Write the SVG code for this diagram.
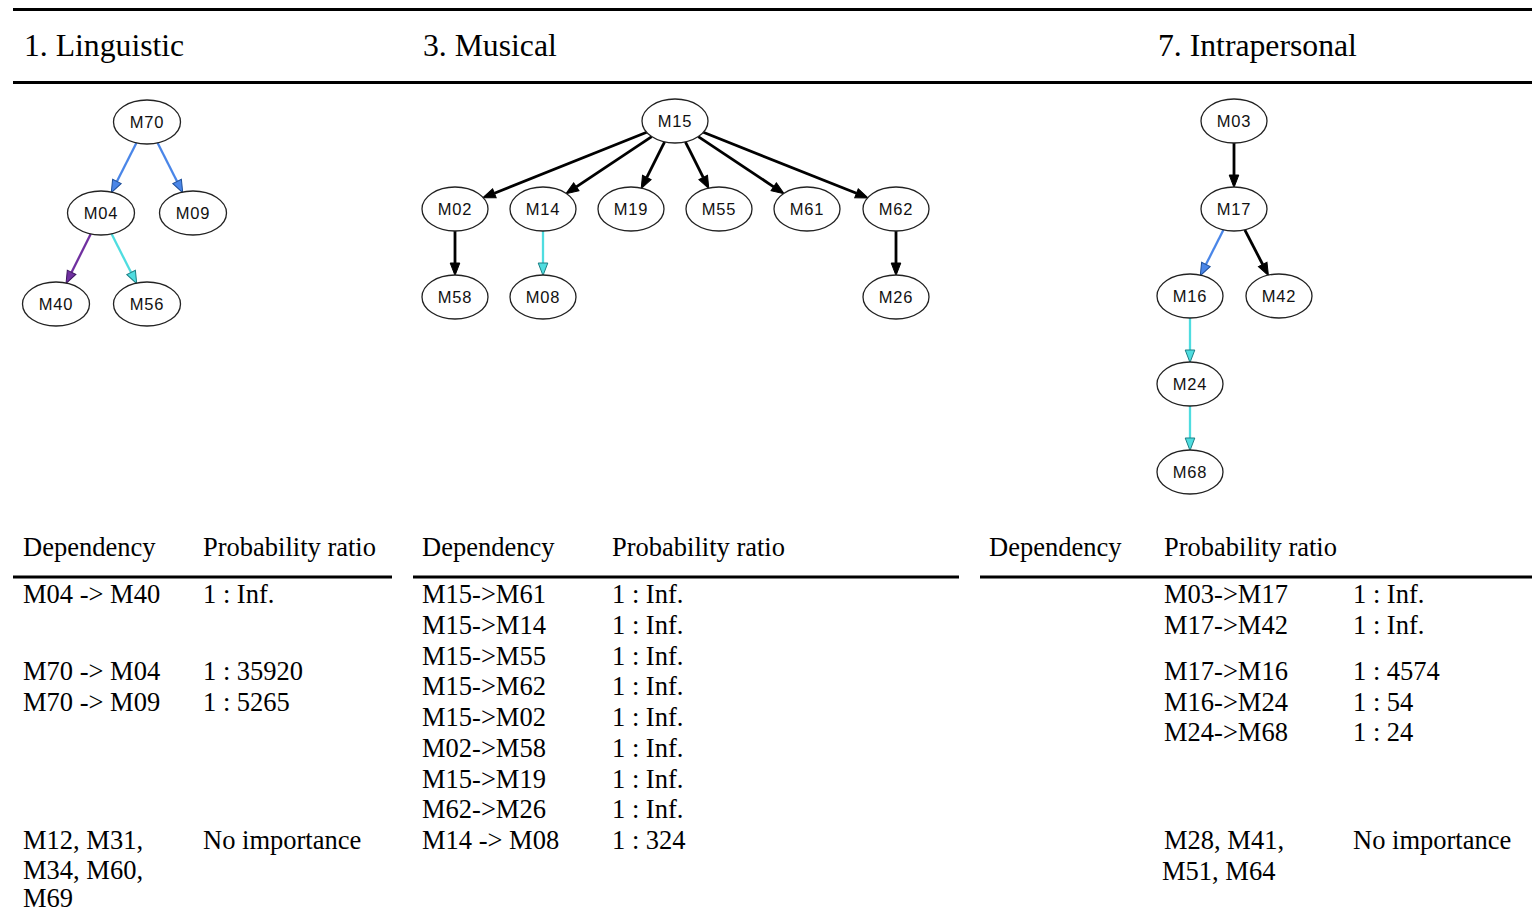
<svg xmlns="http://www.w3.org/2000/svg" width="1532" height="912" viewBox="0 0 1532 912">
<style>
.rule{stroke:#000;stroke-width:3;fill:none}
.h{font-family:"Liberation Serif","Times New Roman",serif;font-size:31.7px;fill:#000}
.t{font-family:"Liberation Serif","Times New Roman",serif;font-size:26.5px;fill:#000}
.node ellipse{fill:#fff;stroke:#222;stroke-width:1.3}
.node text{font-family:"Liberation Sans",Arial,sans-serif;font-size:16.5px;fill:#111;text-anchor:middle;letter-spacing:0.8px}
.e{fill:none;stroke-linecap:butt}
.k{stroke:#000;stroke-width:2.8}
.b{stroke:#4a86e8;stroke-width:2.3}
.c{stroke:#4fdde0;stroke-width:2.3}
.p{stroke:#7030a0;stroke-width:2.3}
</style>
<defs>
<marker id="ak" markerUnits="userSpaceOnUse" viewBox="-1 -6 15 12" markerWidth="15" markerHeight="12" refX="0" refY="0" orient="auto"><path d="M0,-4.8 L12.5,0 L0,4.8 Z" fill="#000" stroke="#000" stroke-width="1"/></marker>
<marker id="ab" markerUnits="userSpaceOnUse" viewBox="-1 -6 15 12" markerWidth="15" markerHeight="12" refX="0" refY="0" orient="auto"><path d="M0,-4.8 L12.5,0 L0,4.8 Z" fill="#4a86e8" stroke="#1f4f99" stroke-width="1"/></marker>
<marker id="ac" markerUnits="userSpaceOnUse" viewBox="-1 -6 15 12" markerWidth="15" markerHeight="12" refX="0" refY="0" orient="auto"><path d="M0,-4.8 L12.5,0 L0,4.8 Z" fill="#4fdde0" stroke="#1c7f84" stroke-width="1"/></marker>
<marker id="ap" markerUnits="userSpaceOnUse" viewBox="-1 -6 15 12" markerWidth="15" markerHeight="12" refX="0" refY="0" orient="auto"><path d="M0,-4.8 L12.5,0 L0,4.8 Z" fill="#7030a0" stroke="#3d1760" stroke-width="1"/></marker>
</defs>
<rect width="1532" height="912" fill="#fff"/>
<g id="rules">
<line class="rule" x1="13" y1="9.5" x2="1532" y2="9.5"/>
<line class="rule" x1="13" y1="82.5" x2="1532" y2="82.5"/>
<line class="rule" x1="13" y1="577" x2="392" y2="577"/>
<line class="rule" x1="413" y1="577" x2="959" y2="577"/>
<line class="rule" x1="980" y1="577" x2="1532" y2="577"/>
</g>
<g id="headers">
<text class="h" x="24" y="56">1. Linguistic</text>
<text class="h" x="423" y="56">3. Musical</text>
<text class="h" x="1158" y="56">7. Intrapersonal</text>
</g>
<g id="connectors">
<line class="e b" x1="136.5" y1="142.8" x2="116.9" y2="181.5" marker-end="url(#ab)"/>
<line class="e b" x1="157.5" y1="142.8" x2="177.1" y2="181.5" marker-end="url(#ab)"/>
<line class="e p" x1="90.7" y1="233.9" x2="71.6" y2="272.3" marker-end="url(#ap)"/>
<line class="e c" x1="111.5" y1="233.8" x2="131.1" y2="272.5" marker-end="url(#ac)"/>
<line class="e k" x1="646.7" y1="132.3" x2="494.4" y2="193.2" marker-end="url(#ak)"/>
<line class="e k" x1="651.7" y1="136.6" x2="576.3" y2="186.8" marker-end="url(#ak)"/>
<line class="e k" x1="664.6" y1="141.9" x2="646.8" y2="177.4" marker-end="url(#ak)"/>
<line class="e k" x1="685.4" y1="141.9" x2="703.2" y2="177.4" marker-end="url(#ak)"/>
<line class="e k" x1="698.3" y1="136.6" x2="773.7" y2="186.8" marker-end="url(#ak)"/>
<line class="e k" x1="703.3" y1="132.3" x2="856.5" y2="193.3" marker-end="url(#ak)"/>
<line class="e k" x1="455" y1="231" x2="455" y2="263" marker-end="url(#ak)"/>
<line class="e c" x1="543" y1="231" x2="543" y2="263" marker-end="url(#ac)"/>
<line class="e k" x1="896" y1="231" x2="896" y2="263" marker-end="url(#ak)"/>
<line class="e k" x1="1234" y1="143" x2="1234" y2="175" marker-end="url(#ak)"/>
<line class="e b" x1="1223.5" y1="229.8" x2="1205.9" y2="264.5" marker-end="url(#ab)"/>
<line class="e k" x1="1244.8" y1="229.8" x2="1262.7" y2="264.5" marker-end="url(#ak)"/>
<line class="e c" x1="1190" y1="318" x2="1190" y2="350" marker-end="url(#ac)"/>
<line class="e c" x1="1190" y1="406" x2="1190" y2="438" marker-end="url(#ac)"/>
</g>
<g id="n-M70" class="node"><ellipse cx="147" cy="122" rx="33.5" ry="22"/><text x="147" y="128">M70</text></g>
<g id="n-M04" class="node"><ellipse cx="101" cy="213" rx="33.5" ry="22"/><text x="101" y="219">M04</text></g>
<g id="n-M09" class="node"><ellipse cx="193" cy="213" rx="33.5" ry="22"/><text x="193" y="219">M09</text></g>
<g id="n-M40" class="node"><ellipse cx="56" cy="304" rx="33.5" ry="22"/><text x="56" y="310">M40</text></g>
<g id="n-M56" class="node"><ellipse cx="147" cy="304" rx="33.5" ry="22"/><text x="147" y="310">M56</text></g>
<g id="n-M15" class="node"><ellipse cx="675" cy="121" rx="33" ry="22"/><text x="675" y="127">M15</text></g>
<g id="n-M02" class="node"><ellipse cx="455" cy="209" rx="33" ry="22"/><text x="455" y="215">M02</text></g>
<g id="n-M14" class="node"><ellipse cx="543" cy="209" rx="33" ry="22"/><text x="543" y="215">M14</text></g>
<g id="n-M19" class="node"><ellipse cx="631" cy="209" rx="33" ry="22"/><text x="631" y="215">M19</text></g>
<g id="n-M55" class="node"><ellipse cx="719" cy="209" rx="33" ry="22"/><text x="719" y="215">M55</text></g>
<g id="n-M61" class="node"><ellipse cx="807" cy="209" rx="33" ry="22"/><text x="807" y="215">M61</text></g>
<g id="n-M62" class="node"><ellipse cx="896" cy="209" rx="33" ry="22"/><text x="896" y="215">M62</text></g>
<g id="n-M58" class="node"><ellipse cx="455" cy="297" rx="33" ry="22"/><text x="455" y="303">M58</text></g>
<g id="n-M08" class="node"><ellipse cx="543" cy="297" rx="33" ry="22"/><text x="543" y="303">M08</text></g>
<g id="n-M26" class="node"><ellipse cx="896" cy="297" rx="33" ry="22"/><text x="896" y="303">M26</text></g>
<g id="n-M03" class="node"><ellipse cx="1234" cy="121" rx="33" ry="22"/><text x="1234" y="127">M03</text></g>
<g id="n-M17" class="node"><ellipse cx="1234" cy="209" rx="33" ry="22"/><text x="1234" y="215">M17</text></g>
<g id="n-M16" class="node"><ellipse cx="1190" cy="296" rx="33" ry="22"/><text x="1190" y="302">M16</text></g>
<g id="n-M42" class="node"><ellipse cx="1279" cy="296" rx="33" ry="22"/><text x="1279" y="302">M42</text></g>
<g id="n-M24" class="node"><ellipse cx="1190" cy="384" rx="33" ry="22"/><text x="1190" y="390">M24</text></g>
<g id="n-M68" class="node"><ellipse cx="1190" cy="472" rx="33" ry="22"/><text x="1190" y="478">M68</text></g>
<g id="table-linguistic">
<text class="t" x="23" y="556">Dependency</text><text class="t" x="203" y="556">Probability ratio</text>
<text class="t" x="23" y="603">M04 -&gt; M40</text><text class="t" x="203" y="603">1 : Inf.</text>
<text class="t" x="23" y="680">M70 -&gt; M04</text><text class="t" x="203" y="680">1 : 35920</text>
<text class="t" x="23" y="711">M70 -&gt; M09</text><text class="t" x="203" y="711">1 : 5265</text>
<text class="t" x="23" y="849">M12, M31,</text><text class="t" x="203" y="849">No importance</text>
<text class="t" x="23" y="879">M34, M60,</text>
<text class="t" x="23" y="907">M69</text>
</g>
<g id="table-musical">
<text class="t" x="422" y="556">Dependency</text><text class="t" x="612" y="556">Probability ratio</text>
<text class="t" x="422" y="603">M15-&gt;M61</text><text class="t" x="612" y="603">1 : Inf.</text>
<text class="t" x="422" y="634">M15-&gt;M14</text><text class="t" x="612" y="634">1 : Inf.</text>
<text class="t" x="422" y="664.5">M15-&gt;M55</text><text class="t" x="612" y="664.5">1 : Inf.</text>
<text class="t" x="422" y="695">M15-&gt;M62</text><text class="t" x="612" y="695">1 : Inf.</text>
<text class="t" x="422" y="726">M15-&gt;M02</text><text class="t" x="612" y="726">1 : Inf.</text>
<text class="t" x="422" y="757">M02-&gt;M58</text><text class="t" x="612" y="757">1 : Inf.</text>
<text class="t" x="422" y="787.5">M15-&gt;M19</text><text class="t" x="612" y="787.5">1 : Inf.</text>
<text class="t" x="422" y="818">M62-&gt;M26</text><text class="t" x="612" y="818">1 : Inf.</text>
<text class="t" x="422" y="849">M14 -&gt; M08</text><text class="t" x="612" y="849">1 : 324</text>
</g>
<g id="table-intrapersonal">
<text class="t" x="989" y="556">Dependency</text><text class="t" x="1164" y="556">Probability ratio</text>
<text class="t" x="1164" y="603">M03-&gt;M17</text><text class="t" x="1353" y="603">1 : Inf.</text>
<text class="t" x="1164" y="634">M17-&gt;M42</text><text class="t" x="1353" y="634">1 : Inf.</text>
<text class="t" x="1164" y="680">M17-&gt;M16</text><text class="t" x="1353" y="680">1 : 4574</text>
<text class="t" x="1164" y="711">M16-&gt;M24</text><text class="t" x="1353" y="711">1 : 54</text>
<text class="t" x="1164" y="741">M24-&gt;M68</text><text class="t" x="1353" y="741">1 : 24</text>
<text class="t" x="1164" y="849">M28, M41,</text><text class="t" x="1353" y="849">No importance</text>
<text class="t" x="1162" y="880">M51, M64</text>
</g>
</svg>
